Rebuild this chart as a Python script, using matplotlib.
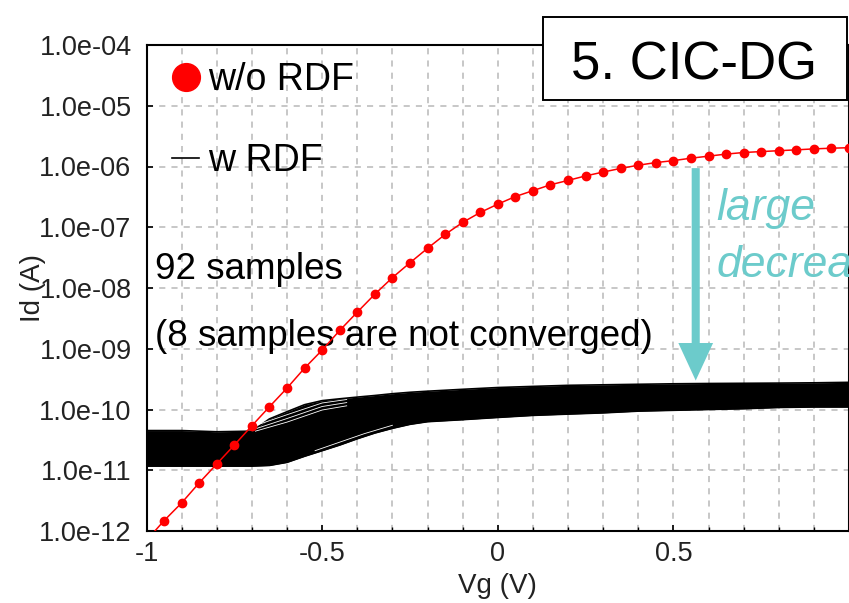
import matplotlib
matplotlib.use("Agg")
import matplotlib.pyplot as plt
from matplotlib.lines import Line2D
from matplotlib.patches import Rectangle
from matplotlib.ticker import FixedLocator, FuncFormatter, MultipleLocator

plt.rcParams['font.family'] = ['Liberation Sans', 'DejaVu Sans']

# ---- data: w/o RDF (red markers) ----
vg_nordf = [-1.0, -0.95, -0.9, -0.85, -0.8, -0.75, -0.7, -0.65, -0.6, -0.55,
            -0.5, -0.45, -0.4, -0.35, -0.3, -0.25, -0.2, -0.15, -0.1, -0.05,
            0.0, 0.05, 0.1, 0.15, 0.2, 0.25, 0.3, 0.35, 0.4, 0.45,
            0.5, 0.55, 0.6, 0.65, 0.7, 0.75, 0.8, 0.85, 0.9, 0.95, 1.0]
id_nordf = [7.0e-13, 1.48e-12, 2.9e-12, 6.2e-12, 1.27e-11, 2.6e-11, 5.4e-11, 1.11e-10, 2.25e-10, 4.8e-10,
            9.5e-10, 2.0e-9, 4.0e-9, 7.9e-9, 1.48e-8, 2.6e-8, 4.5e-8, 7.6e-8, 1.2e-7, 1.75e-7,
            2.4e-7, 3.2e-7, 4.0e-7, 5.0e-7, 5.9e-7, 7.0e-7, 8.1e-7, 9.3e-7, 1.05e-6, 1.16e-6,
            1.25e-6, 1.37e-6, 1.48e-6, 1.6e-6, 1.7e-6, 1.76e-6, 1.82e-6, 1.88e-6, 1.95e-6, 2.0e-6, 2.04e-6]

# ---- data: w RDF (92 samples) band envelope ----
vg_rdf = [-1.0, -0.9, -0.8, -0.7, -0.65, -0.6, -0.55, -0.5, -0.45, -0.4, -0.35, -0.3,
          -0.25, -0.2, -0.1, 0.0, 0.1, 0.2, 0.3, 0.4, 0.5, 0.6, 0.7, 0.8, 0.9, 1.0]
id_rdf_top = [4.5e-11, 4.5e-11, 4.3e-11, 4.4e-11, 7.0e-11, 9.2e-11, 1.2e-10, 1.4e-10, 1.5e-10, 1.6e-10,
              1.7e-10, 1.82e-10, 1.92e-10, 2.0e-10, 2.15e-10, 2.3e-10, 2.4e-10, 2.5e-10, 2.55e-10,
              2.6e-10, 2.65e-10, 2.68e-10, 2.7e-10, 2.72e-10, 2.75e-10, 2.8e-10]
id_rdf_bottom = [1.17e-11, 1.17e-11, 1.17e-11, 1.17e-11, 1.2e-11, 1.35e-11, 1.7e-11, 2.1e-11, 2.6e-11,
                 3.3e-11, 4.1e-11, 4.9e-11, 5.7e-11, 6.3e-11, 6.8e-11, 7.4e-11, 8.0e-11, 8.4e-11,
                 8.8e-11, 9.4e-11, 9.7e-11, 1.0e-10, 1.03e-10, 1.08e-10, 1.1e-10, 1.1e-10]

# visible gaps between individual sample curves
gap_vg_upper = [-0.69, -0.6, -0.5, -0.43]
gap_id_upper = [[5.45e-11, 8.2e-11, 1.28e-10, 1.46e-10],
                [4.8e-11, 7.1e-11, 1.12e-10, 1.3e-10],
                [4.4e-11, 6.2e-11, 9.8e-11, 1.15e-10]]
gap_vg_lower = [-0.52, -0.45, -0.38, -0.3]
gap_id_lower = [2.1e-11, 2.9e-11, 4.0e-11, 5.5e-11]

# annotation arrow
arrow_vg = 0.5636
arrow_id_start = 9.4e-7
arrow_id_end = 3.0e-10

xticks = [-1, -0.5, 0, 0.5, 1]
xticklabels = ['-1', '-0.5', '0', '0.5', '']
yticks = [1e-12, 1e-11, 1e-10, 1e-9, 1e-8, 1e-7, 1e-6, 1e-5, 1e-4]

red = '#ff0000'
teal = '#6ccbcb'

fig = plt.figure(figsize=(8.49, 6.03), dpi=100)
ax = fig.add_axes([146.5 / 849, 72 / 603, 702.5 / 849, 486 / 603])
ax.set_yscale('log')
ax.set_xlim(-1, 1)
ax.set_ylim(1e-12, 1e-4)

# grid
ax.set_axisbelow(True)
ax.xaxis.set_major_locator(FixedLocator(xticks))
ax.xaxis.set_minor_locator(MultipleLocator(0.1))
ax.yaxis.set_major_locator(FixedLocator(yticks))
ax.yaxis.set_minor_locator(FixedLocator([]))
ax.set_xticklabels(xticklabels)
ax.yaxis.set_major_formatter(FuncFormatter(lambda v, p: f"{v:.1e}"))
ax.grid(True, which='both', axis='x', color='#b8b8b8', linestyle=(0, (4, 4)), linewidth=1.1)
ax.grid(True, which='major', axis='y', color='#b8b8b8', linestyle=(0, (4, 4)), linewidth=1.1)

ax.tick_params(axis='both', which='major', direction='in', length=4, width=1.2,
               labelsize=19.5, labelcolor='#222222', color='black')
ax.tick_params(axis='y', which='major', pad=10.8)
ax.tick_params(axis='x', which='major', pad=7)
ax.tick_params(axis='x', which='minor', direction='in', length=3, width=1.0)
for s in ax.spines.values():
    s.set_linewidth(1.5)

# w RDF band
ax.fill_between(vg_rdf, id_rdf_bottom, id_rdf_top, color='black', linewidth=0, zorder=2)
ax.plot(vg_rdf, id_rdf_top, color='black', lw=1.2, zorder=2)
ax.plot(vg_rdf, id_rdf_bottom, color='black', lw=1.2, zorder=2)
for g in gap_id_upper:
    ax.plot(gap_vg_upper, g, color='white', lw=0.6, zorder=2.1)
ax.plot(gap_vg_lower, gap_id_lower, color='white', lw=0.6, zorder=2.1)

# w/o RDF
ax.plot(vg_nordf, id_nordf, color=red, lw=1.1, marker='o', markersize=6,
        markeredgecolor=red, zorder=3)

# texts
ax.text(0.0121, 0.5185, '92 samples', transform=ax.transAxes, fontsize=26.5,
        va='baseline', ha='left', zorder=1.5)
ax.text(0.0121, 0.3807, '(8 samples are not converged)', transform=ax.transAxes,
        fontsize=26.5, va='baseline', ha='left', zorder=1.5)

# arrow + label
ax.annotate('', xy=(arrow_vg, arrow_id_end), xytext=(arrow_vg, arrow_id_start),
            arrowprops=dict(arrowstyle='simple,head_length=2.7,head_width=2.5,tail_width=0.58',
                            mutation_scale=10, color=teal, shrinkA=0, shrinkB=0, lw=0),
            zorder=4)
ax.text(0.8117, 0.640, 'large', transform=ax.transAxes, fontsize=32, style='italic',
        color=teal, va='baseline', ha='left', clip_on=False)
ax.text(0.8117, 0.5233, 'decrease', transform=ax.transAxes, fontsize=32, style='italic',
        color=teal, va='baseline', ha='left', clip_on=False)

# legend
handles = [Line2D([], [], color=red, marker='o', linestyle='none', markersize=20),
           Line2D([], [], color='black', lw=1.2)]
leg = ax.legend(handles, ['w/o RDF', 'w RDF'], loc='upper left',
                bbox_to_anchor=(0.037, 0.964), frameon=False, fontsize=27,
                handlelength=0.7, handletextpad=0.25, labelspacing=1.2,
                borderpad=0, borderaxespad=0)

ax.set_xlabel('Vg (V)', fontsize=20, color='#222222')
ax.set_ylabel('Id (A)', fontsize=20, color='#222222')
ax.xaxis.set_label_coords(0.5, -0.0864)
ax.yaxis.set_label_coords(-0.143, 0.5)

# title box
fig.patches.append(Rectangle((543 / 849, (603 - 100) / 603), 304 / 849, 83 / 603,
                             transform=fig.transFigure, facecolor='white',
                             edgecolor='black', linewidth=1.4, zorder=10))
fig.text(694.2 / 849, (603 - 80) / 603, '5. CIC-DG', fontsize=38, ha='center',
         va='baseline', zorder=11)

fig.savefig('out.png', dpi=100)
